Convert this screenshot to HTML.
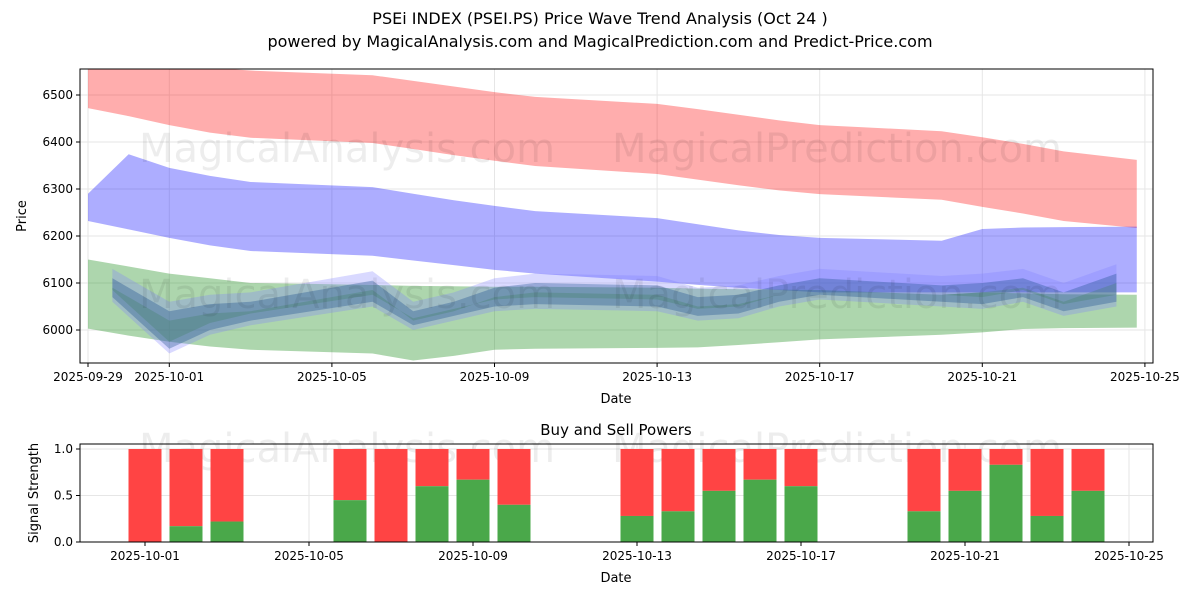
<!DOCTYPE html>
<html><head><meta charset="utf-8"><style>
body{margin:0;background:#fff;font-family:"Liberation Sans","DejaVu Sans",sans-serif}
svg text{font-family:"DejaVu Sans","Liberation Sans",sans-serif}
</style></head><body>
<svg id="c" width="1200" height="600" viewBox="0 0 1200 600" xmlns="http://www.w3.org/2000/svg">
<text x="600" y="24" text-anchor="middle" font-size="16">PSEi INDEX (PSEI.PS) Price Wave Trend Analysis (Oct 24 )</text>
<text x="600" y="47" text-anchor="middle" font-size="16">powered by MagicalAnalysis.com and MagicalPrediction.com and Predict-Price.com</text>
<g id="top"></g>
<g id="bot"></g>
</svg>
<script>
const days=["09-29","09-30","10-01","10-02","10-03","10-06","10-07","10-08","10-09","10-10","10-13","10-14","10-15","10-16","10-17","10-20","10-21","10-22","10-23","10-25"];
const dayIdx=[0,1,2,3,4,7,8,9,10,11,14,15,16,17,18,21,22,23,24,25.8];
const midDayIdx=[0,0.6,2,3,4,7,8,9,10,11,14,15,16,17,18,21,22,23,24,25.3];
const redTop=[6560,6560,6560,6558,6552,6542,6530,6518,6506,6496,6481,6470,6458,6446,6436,6423,6410,6396,6380,6362];
const redBot=[6472,6455,6436,6420,6409,6398,6385,6372,6360,6349,6332,6320,6308,6297,6289,6277,6262,6248,6232,6217];
const blueTop=[6290,6374,6345,6328,6315,6304,6290,6276,6264,6253,6238,6225,6212,6202,6196,6190,6215,6218,6219,6220];
const blueBot=[6232,6214,6196,6180,6168,6158,6148,6138,6128,6120,6103,6096,6090,6085,6080,6080,6080,6080,6080,6080];
const greenTop=[6150,6135,6120,6110,6100,6096,6094,6093,6092,6092,6090,6088,6087,6086,6085,6075,6080,6078,6076,6075];
const greenBot=[6003,5988,5975,5965,5958,5950,5935,5945,5958,5960,5962,5963,5968,5974,5980,5990,5995,6002,6004,6005];
const midTop=[null,6130,6060,6075,6080,6125,6060,6080,6110,6120,6115,6090,6095,6115,6130,6115,6120,6130,6100,6140];
const midBot=[null,6060,5950,5990,6010,6050,6000,6020,6040,6045,6040,6020,6025,6050,6065,6050,6045,6060,6030,6050];
const sigDays=["10-01","10-02","10-03","10-06","10-07","10-08","10-09","10-10","10-13","10-14","10-15","10-16","10-17","10-20","10-21","10-22","10-23","10-24"];
const sigIdx=[2,3,4,7,8,9,10,11,14,15,16,17,18,21,22,23,24,25];
const buy=[0,0.17,0.22,0.45,0,0.6,0.67,0.4,0.28,0.33,0.55,0.67,0.6,0.33,0.55,0.83,0.28,0.55];
const xTicks=["2025-09-29","2025-10-01","2025-10-05","2025-10-09","2025-10-13","2025-10-17","2025-10-21","2025-10-25"];
const xTickIdx=[0,2,6,10,14,18,22,26];
const yTicks=[6000,6100,6200,6300,6400,6500];
const sTicks=[0,0.5,1.0];
const NS="http://www.w3.org/2000/svg";
const X=d=>88+d*40.65;
const X2=d=>145+(d-2)*41;
const Y=v=>330-(v-6000)*0.47;
const SY=v=>542-v*93;
function mk(t,a,p){const e=document.createElementNS(NS,t);for(const k in a)e.setAttribute(k,a[k]);p.appendChild(e);return e;}
const topG=document.getElementById('top'),botG=document.getElementById('bot');
const cp=mk('clipPath',{id:'cp'},topG);mk('rect',{x:80,y:69,width:1073,height:294},cp);
yTicks.forEach(v=>{mk('line',{x1:80,x2:1153,y1:Y(v),y2:Y(v),stroke:'#e6e6e6'},topG);});
xTickIdx.forEach(d=>{mk('line',{x1:X(d),x2:X(d),y1:69,y2:363,stroke:'#e6e6e6'},topG);});
const g=mk('g',{'clip-path':'url(#cp)'},topG);
function band(tp,bt,xs,col,op,name){
  let pts=[],rev=[];
  for(let i=0;i<tp.length;i++){if(tp[i]==null)continue;pts.push(X(xs[i])+','+Y(tp[i]));rev.unshift(X(xs[i])+','+Y(bt[i]));}
  const p=mk('polygon',{points:pts.concat(rev).join(' '),fill:col,'fill-opacity':op},g);
  
  
}
band(redTop,redBot,dayIdx,'#ff0000',0.32,'red-band');
band(blueTop,blueBot,dayIdx,'#0000ff',0.32,'blue-band');
band(greenTop,greenBot,dayIdx,'#008000',0.32,'green-band');
band(midTop,midBot,midDayIdx,'#8080ff',0.3,'mid-band-1');
band(midTop.map(v=>v==null?null:v-20),midBot.map(v=>v==null?null:v+10),midDayIdx,'#205090',0.35,'mid-band-2');
band(midTop.map(v=>v==null?null:v-40),midBot.map(v=>v==null?null:v+25),midDayIdx,'#408060',0.3,'mid-band-3');
[['MagicalAnalysis.com',347,162],['MagicalPrediction.com',837,162],['MagicalAnalysis.com',347,308],['MagicalPrediction.com',837,308]].forEach(w=>{const tt=mk('text',{x:w[1],y:w[2],'text-anchor':'middle','font-size':40,fill:'#000','fill-opacity':0.07},topG);tt.textContent=w[0];});
mk('rect',{x:80,y:69,width:1073,height:294,fill:'none',stroke:'#000'},topG);
yTicks.forEach(v=>{mk('line',{x1:76,x2:80,y1:Y(v),y2:Y(v),stroke:'#000'},topG);const tt=mk('text',{x:73,y:Y(v)+4,'text-anchor':'end','font-size':12},topG);tt.textContent=v;});
xTickIdx.forEach((d,i)=>{mk('line',{x1:X(d),x2:X(d),y1:363,y2:367,stroke:'#000'},topG);const tt=mk('text',{x:X(d),y:381,'text-anchor':'middle','font-size':12},topG);tt.textContent=xTicks[i];});
let t=mk('text',{x:616,y:403,'text-anchor':'middle','font-size':13},topG);t.textContent='Date';
t=mk('text',{x:26,y:216,'text-anchor':'middle','font-size':13,transform:'rotate(-90 26 216)'},topG);t.textContent='Price';
t=mk('text',{x:616,y:435,'text-anchor':'middle','font-size':15},botG);t.textContent='Buy and Sell Powers';
sTicks.forEach(v=>{mk('line',{x1:80,x2:1153,y1:SY(v),y2:SY(v),stroke:'#e6e6e6'},botG);});
[2,6,10,14,18,22,26].forEach(d=>mk('line',{x1:X2(d),x2:X2(d),y1:444,y2:542,stroke:'#e6e6e6'},botG));
[['MagicalAnalysis.com',347,462],['MagicalPrediction.com',837,462]].forEach(w=>{const tt=mk('text',{x:w[1],y:w[2],'text-anchor':'middle','font-size':40,fill:'#000','fill-opacity':0.07},botG);tt.textContent=w[0];});
sigIdx.forEach((d,i)=>{
  const x=X2(d)-16.5;
  const r=mk('rect',{x:x,y:SY(1),width:33,height:SY(buy[i])-SY(1),fill:'#ff4444'},botG);
  
  
  const gr=mk('rect',{x:x,y:SY(buy[i]),width:33,height:SY(0)-SY(buy[i]),fill:'#4aa84a'},botG);
  
  
});
mk('rect',{x:80,y:444,width:1073,height:98,fill:'none',stroke:'#000'},botG);
sTicks.forEach(v=>{mk('line',{x1:76,x2:80,y1:SY(v),y2:SY(v),stroke:'#000'},botG);const tt=mk('text',{x:73,y:SY(v)+4,'text-anchor':'end','font-size':12},botG);tt.textContent=v.toFixed(1);});
["2025-10-01","2025-10-05","2025-10-09","2025-10-13","2025-10-17","2025-10-21","2025-10-25"].forEach((s,i)=>{const d=2+4*i;mk('line',{x1:X2(d),x2:X2(d),y1:542,y2:546,stroke:'#000'},botG);const tt=mk('text',{x:X2(d),y:560,'text-anchor':'middle','font-size':12},botG);tt.textContent=s;});
t=mk('text',{x:616,y:582,'text-anchor':'middle','font-size':13},botG);t.textContent='Date';
t=mk('text',{x:38,y:493,'text-anchor':'middle','font-size':13,transform:'rotate(-90 38 493)'},botG);t.textContent='Signal Strength';
</script>
</body></html>
